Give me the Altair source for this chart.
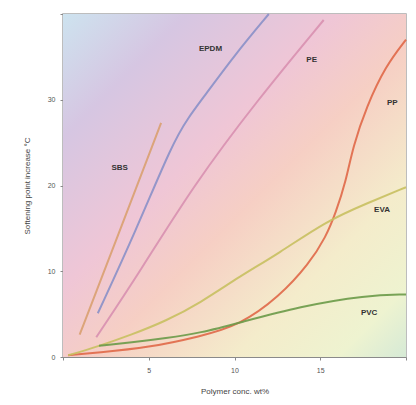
import altair as alt
import pandas as pd

# ---- data ----
sbs_x = [0.97, 3.25, 5.72]
sbs_y = [2.6, 14.4, 27.3]

epdm_x = [2.03, 4.2, 6.4, 7.3, 8.2, 10.0, 12.0]
epdm_y = [5.1, 14.5, 25.0, 27.9, 30.3, 35.2, 40.0]

pe_x = [1.94, 4.5, 7.6, 11.35, 15.2]
pe_y = [2.3, 10.0, 20.0, 30.0, 39.3]

pp_x = [0.3, 2.0, 5.0, 8.0, 10.3, 12.6, 14.36, 15.33, 15.9, 16.5, 16.9, 17.7, 18.8, 20.0]
pp_y = [0.2, 0.5, 1.1, 2.4, 3.7, 7.0, 10.9, 14.0, 16.8, 20.5, 24.5, 29.2, 33.9, 37.0]

eva_x = [0.3, 2.0, 4.0, 6.0, 8.0, 10.3, 12.6, 15.3, 17.7, 20.0]
eva_y = [0.2, 1.2, 2.6, 4.2, 6.3, 9.4, 12.1, 15.8, 17.9, 19.8]

pvc_x = [2.1, 4.0, 6.0, 8.0, 10.3, 13.8, 17.7, 20.0]
pvc_y = [1.3, 1.7, 2.2, 2.8, 4.0, 5.9, 7.2, 7.3]

series_names = ["SBS", "EPDM", "PE", "PP", "EVA", "PVC"]
series_colors = ["#d9a070", "#8a90c8", "#d890b0", "#e06848", "#c8c060", "#6a9a48"]

label_names = ["SBS", "EPDM", "PE", "PP", "EVA", "PVC"]
label_x = [3.3, 8.6, 14.5, 19.2, 18.6, 17.85]
label_y = [22.0, 35.9, 34.6, 29.6, 17.1, 5.1]

x_title = "Polymer conc. wt%"
y_title = "Softening point increase °C"

# ---- tables ----
rows = []
for name, xs, ys in [("SBS", sbs_x, sbs_y), ("EPDM", epdm_x, epdm_y), ("PE", pe_x, pe_y),
                     ("PP", pp_x, pp_y), ("EVA", eva_x, eva_y), ("PVC", pvc_x, pvc_y)]:
    for i, (a, b) in enumerate(zip(xs, ys)):
        rows.append({"series": name, "x": a, "y": b, "i": i})
df = pd.DataFrame(rows)
labels = pd.DataFrame({"name": label_names, "x": label_x, "y": label_y})
bg = pd.DataFrame({"x0": [0], "x1": [20], "y0": [0], "y1": [40]})

xs = alt.Scale(domain=[0, 20], nice=False)
ys = alt.Scale(domain=[0, 40], nice=False)

grad = {
    "gradient": "linear", "x1": 0, "y1": 0, "x2": 1, "y2": 1,
    "stops": [
        {"offset": 0.0, "color": "#cde3ef"},
        {"offset": 0.18, "color": "#d6c6e2"},
        {"offset": 0.4, "color": "#efc6d6"},
        {"offset": 0.55, "color": "#f6cfc4"},
        {"offset": 0.75, "color": "#f4eccb"},
        {"offset": 0.9, "color": "#eef3d0"},
        {"offset": 1.0, "color": "#d6ead6"},
    ],
}

background = alt.Chart(bg).mark_rect(color=grad).encode(
    x=alt.X("x0:Q", scale=xs,
            axis=alt.Axis(title=x_title, values=[0, 5, 10, 15, 20],
                          labelExpr="datum.value == 0 || datum.value == 20 ? '' : datum.label")),
    x2="x1:Q",
    y=alt.Y("y0:Q", scale=ys,
            axis=alt.Axis(title=y_title, values=[0, 10, 20, 30, 40],
                          labelExpr="datum.value == 40 ? '' : datum.label")),
    y2="y1:Q",
)

lines = alt.Chart(df).mark_line(strokeWidth=2, interpolate="basis", opacity=0.9).encode(
    x=alt.X("x:Q", scale=xs),
    y=alt.Y("y:Q", scale=ys),
    color=alt.Color("series:N", scale=alt.Scale(domain=series_names, range=series_colors), legend=None),
    order="i:Q",
)

text = alt.Chart(labels).mark_text(fontSize=8, fontWeight="bold", color="#333",
                                   font="Liberation Sans").encode(
    x=alt.X("x:Q", scale=xs),
    y=alt.Y("y:Q", scale=ys),
    text="name:N",
)

chart = alt.layer(background, lines, text).properties(
    width=343, height=343,
    autosize=alt.AutoSizeParams(type="none"),
    padding={"left": 55, "top": 6, "right": 2, "bottom": 40},
).configure_view(
    stroke="#a8a8a8", strokeWidth=1.5
).configure_axis(
    grid=False,
    domainColor="#8a8a8a",
    tickColor="#8a8a8a",
    tickSize=3,
    labelColor="#555",
    labelFontSize=7,
    labelFont="Liberation Sans",
    titleFont="Liberation Sans",
    titleFontSize=8,
    titleFontWeight="normal",
    titleColor="#444",
).configure_axisX(
    labelPadding=6, titlePadding=14,
).configure_axisY(
    labelPadding=5, titlePadding=16,
)

chart.save("out.html", embed_options={"renderer": "svg", "actions": False})
